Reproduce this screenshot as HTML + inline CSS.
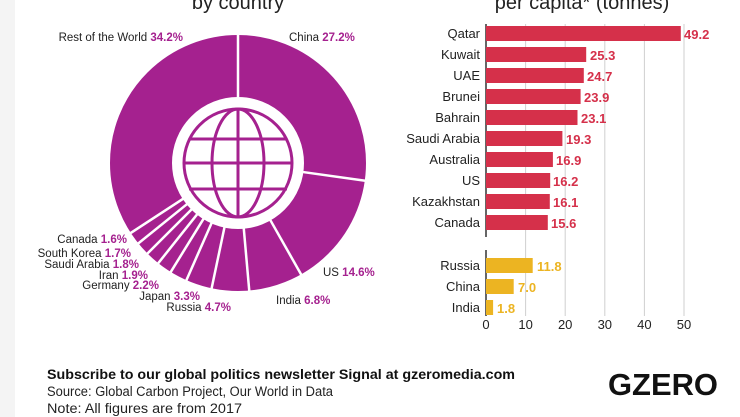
<!DOCTYPE html>
<html><head><meta charset="utf-8"><style>
body{margin:0;background:#fff;}
svg{display:block;font-family:"Liberation Sans",sans-serif;}
</style></head><body>
<svg width="740" height="417" viewBox="0 0 740 417" xmlns="http://www.w3.org/2000/svg">
<rect x="0" y="0" width="15" height="417" fill="#f4f4f4"/>
<!-- titles -->
<text x="238" y="9" font-size="20" text-anchor="middle" fill="#222">by country</text>
<text x="582" y="9" font-size="20" text-anchor="middle" fill="#222">per capita* (tonnes)</text>
<!-- donut -->
<circle cx="238" cy="163" r="97" fill="none" stroke="#a5218f" stroke-width="62"/>
<g stroke="#fff" stroke-width="2.5">
<line x1="238" y1="99" x2="238" y2="30"/>
<line x1="238" y1="99" x2="238" y2="30" transform="rotate(97.92 238 163)"/>
<line x1="238" y1="99" x2="238" y2="30" transform="rotate(150.48 238 163)"/>
<line x1="238" y1="99" x2="238" y2="30" transform="rotate(174.96 238 163)"/>
<line x1="238" y1="99" x2="238" y2="30" transform="rotate(191.88 238 163)"/>
<line x1="238" y1="99" x2="238" y2="30" transform="rotate(203.76 238 163)"/>
<line x1="238" y1="99" x2="238" y2="30" transform="rotate(211.68 238 163)"/>
<line x1="238" y1="99" x2="238" y2="30" transform="rotate(218.52 238 163)"/>
<line x1="238" y1="99" x2="238" y2="30" transform="rotate(225 238 163)"/>
<line x1="238" y1="99" x2="238" y2="30" transform="rotate(231.12 238 163)"/>
<line x1="238" y1="99" x2="238" y2="30" transform="rotate(236.88 238 163)"/>
</g>
<!-- globe -->
<g fill="none" stroke="#a5218f" stroke-width="3">
<circle cx="238" cy="163" r="54"/>
<ellipse cx="238" cy="163" rx="26" ry="54"/>
<line x1="238" y1="109" x2="238" y2="217"/>
<line x1="184" y1="163" x2="292" y2="163"/>
<line x1="189" y1="139" x2="287" y2="139"/>
<line x1="189" y1="189" x2="287" y2="189"/>
</g>
<!-- donut labels -->
<g font-size="11.5" fill="#222">
<text x="183" y="41" text-anchor="end">Rest of the World <tspan font-weight="bold" fill="#a5218f">34.2%</tspan></text>
<text x="289" y="41">China <tspan font-weight="bold" fill="#a5218f">27.2%</tspan></text>
<text x="323" y="276">US <tspan font-weight="bold" fill="#a5218f">14.6%</tspan></text>
<text x="276" y="304">India <tspan font-weight="bold" fill="#a5218f">6.8%</tspan></text>
<text x="231" y="311" text-anchor="end">Russia <tspan font-weight="bold" fill="#a5218f">4.7%</tspan></text>
<text x="200" y="300" text-anchor="end">Japan <tspan font-weight="bold" fill="#a5218f">3.3%</tspan></text>
<text x="159" y="289" text-anchor="end">Germany <tspan font-weight="bold" fill="#a5218f">2.2%</tspan></text>
<text x="148" y="279" text-anchor="end">Iran <tspan font-weight="bold" fill="#a5218f">1.9%</tspan></text>
<text x="139" y="268" text-anchor="end">Saudi Arabia <tspan font-weight="bold" fill="#a5218f">1.8%</tspan></text>
<text x="131" y="257" text-anchor="end">South Korea <tspan font-weight="bold" fill="#a5218f">1.7%</tspan></text>
<text x="127" y="243" text-anchor="end">Canada <tspan font-weight="bold" fill="#a5218f">1.6%</tspan></text>
</g>
<!-- bar chart grid -->
<g stroke="#cfcfcf" stroke-width="1">
<line x1="525.6" y1="24" x2="525.6" y2="316"/>
<line x1="565.2" y1="24" x2="565.2" y2="316"/>
<line x1="604.8" y1="24" x2="604.8" y2="316"/>
<line x1="644.4" y1="24" x2="644.4" y2="316"/>
<line x1="684" y1="24" x2="684" y2="316"/>
</g>
<line x1="486" y1="24" x2="486" y2="237" stroke="#333" stroke-width="1.5"/>
<line x1="486" y1="250" x2="486" y2="316" stroke="#333" stroke-width="1.5"/>
<g fill="#d5304a">
<rect x="486" y="26" width="194.8" height="15"/>
<rect x="486" y="47" width="100.2" height="15"/>
<rect x="486" y="68" width="97.8" height="15"/>
<rect x="486" y="89" width="94.6" height="15"/>
<rect x="486" y="110" width="91.5" height="15"/>
<rect x="486" y="131" width="76.4" height="15"/>
<rect x="486" y="152" width="66.9" height="15"/>
<rect x="486" y="173" width="64.2" height="15"/>
<rect x="486" y="194" width="63.8" height="15"/>
<rect x="486" y="215" width="61.8" height="15"/>
</g>
<g fill="#ecb422">
<rect x="486" y="258" width="46.7" height="15"/>
<rect x="486" y="279" width="27.7" height="15"/>
<rect x="486" y="300" width="7.1" height="15"/>
</g>
<g font-size="13" fill="#222" text-anchor="end">
<text x="480" y="38">Qatar</text>
<text x="480" y="59">Kuwait</text>
<text x="480" y="80">UAE</text>
<text x="480" y="101">Brunei</text>
<text x="480" y="122">Bahrain</text>
<text x="480" y="143">Saudi Arabia</text>
<text x="480" y="164">Australia</text>
<text x="480" y="185">US</text>
<text x="480" y="206">Kazakhstan</text>
<text x="480" y="227">Canada</text>
<text x="480" y="270">Russia</text>
<text x="480" y="291">China</text>
<text x="480" y="312">India</text>
</g>
<g font-size="13" font-weight="bold" fill="#d5304a">
<text x="684" y="39">49.2</text>
<text x="590" y="60">25.3</text>
<text x="587" y="81">24.7</text>
<text x="584" y="102">23.9</text>
<text x="581" y="123">23.1</text>
<text x="566" y="144">19.3</text>
<text x="556" y="165">16.9</text>
<text x="553" y="186">16.2</text>
<text x="553" y="207">16.1</text>
<text x="551" y="228">15.6</text>
</g>
<g font-size="13" font-weight="bold" fill="#ecb422">
<text x="537" y="271">11.8</text>
<text x="518" y="292">7.0</text>
<text x="497" y="313">1.8</text>
</g>
<g font-size="13" fill="#222" text-anchor="middle">
<text x="486" y="329">0</text>
<text x="525.6" y="329">10</text>
<text x="565.2" y="329">20</text>
<text x="604.8" y="329">30</text>
<text x="644.4" y="329">40</text>
<text x="684" y="329">50</text>
</g>
<!-- footer -->
<text x="47" y="379" font-size="14" font-weight="bold" fill="#111" textLength="468" lengthAdjust="spacingAndGlyphs">Subscribe to our global politics newsletter Signal at gzeromedia.com</text>
<text x="47" y="396" font-size="13.5" fill="#222" textLength="286" lengthAdjust="spacingAndGlyphs">Source: Global Carbon Project, Our World in Data</text>
<text x="47" y="413" font-size="13.5" fill="#222" textLength="195" lengthAdjust="spacingAndGlyphs">Note: All figures are from 2017</text>
<text x="608" y="395" font-size="31" font-weight="bold" fill="#111" textLength="110" lengthAdjust="spacingAndGlyphs">GZERO</text>
</svg>
</body></html>
